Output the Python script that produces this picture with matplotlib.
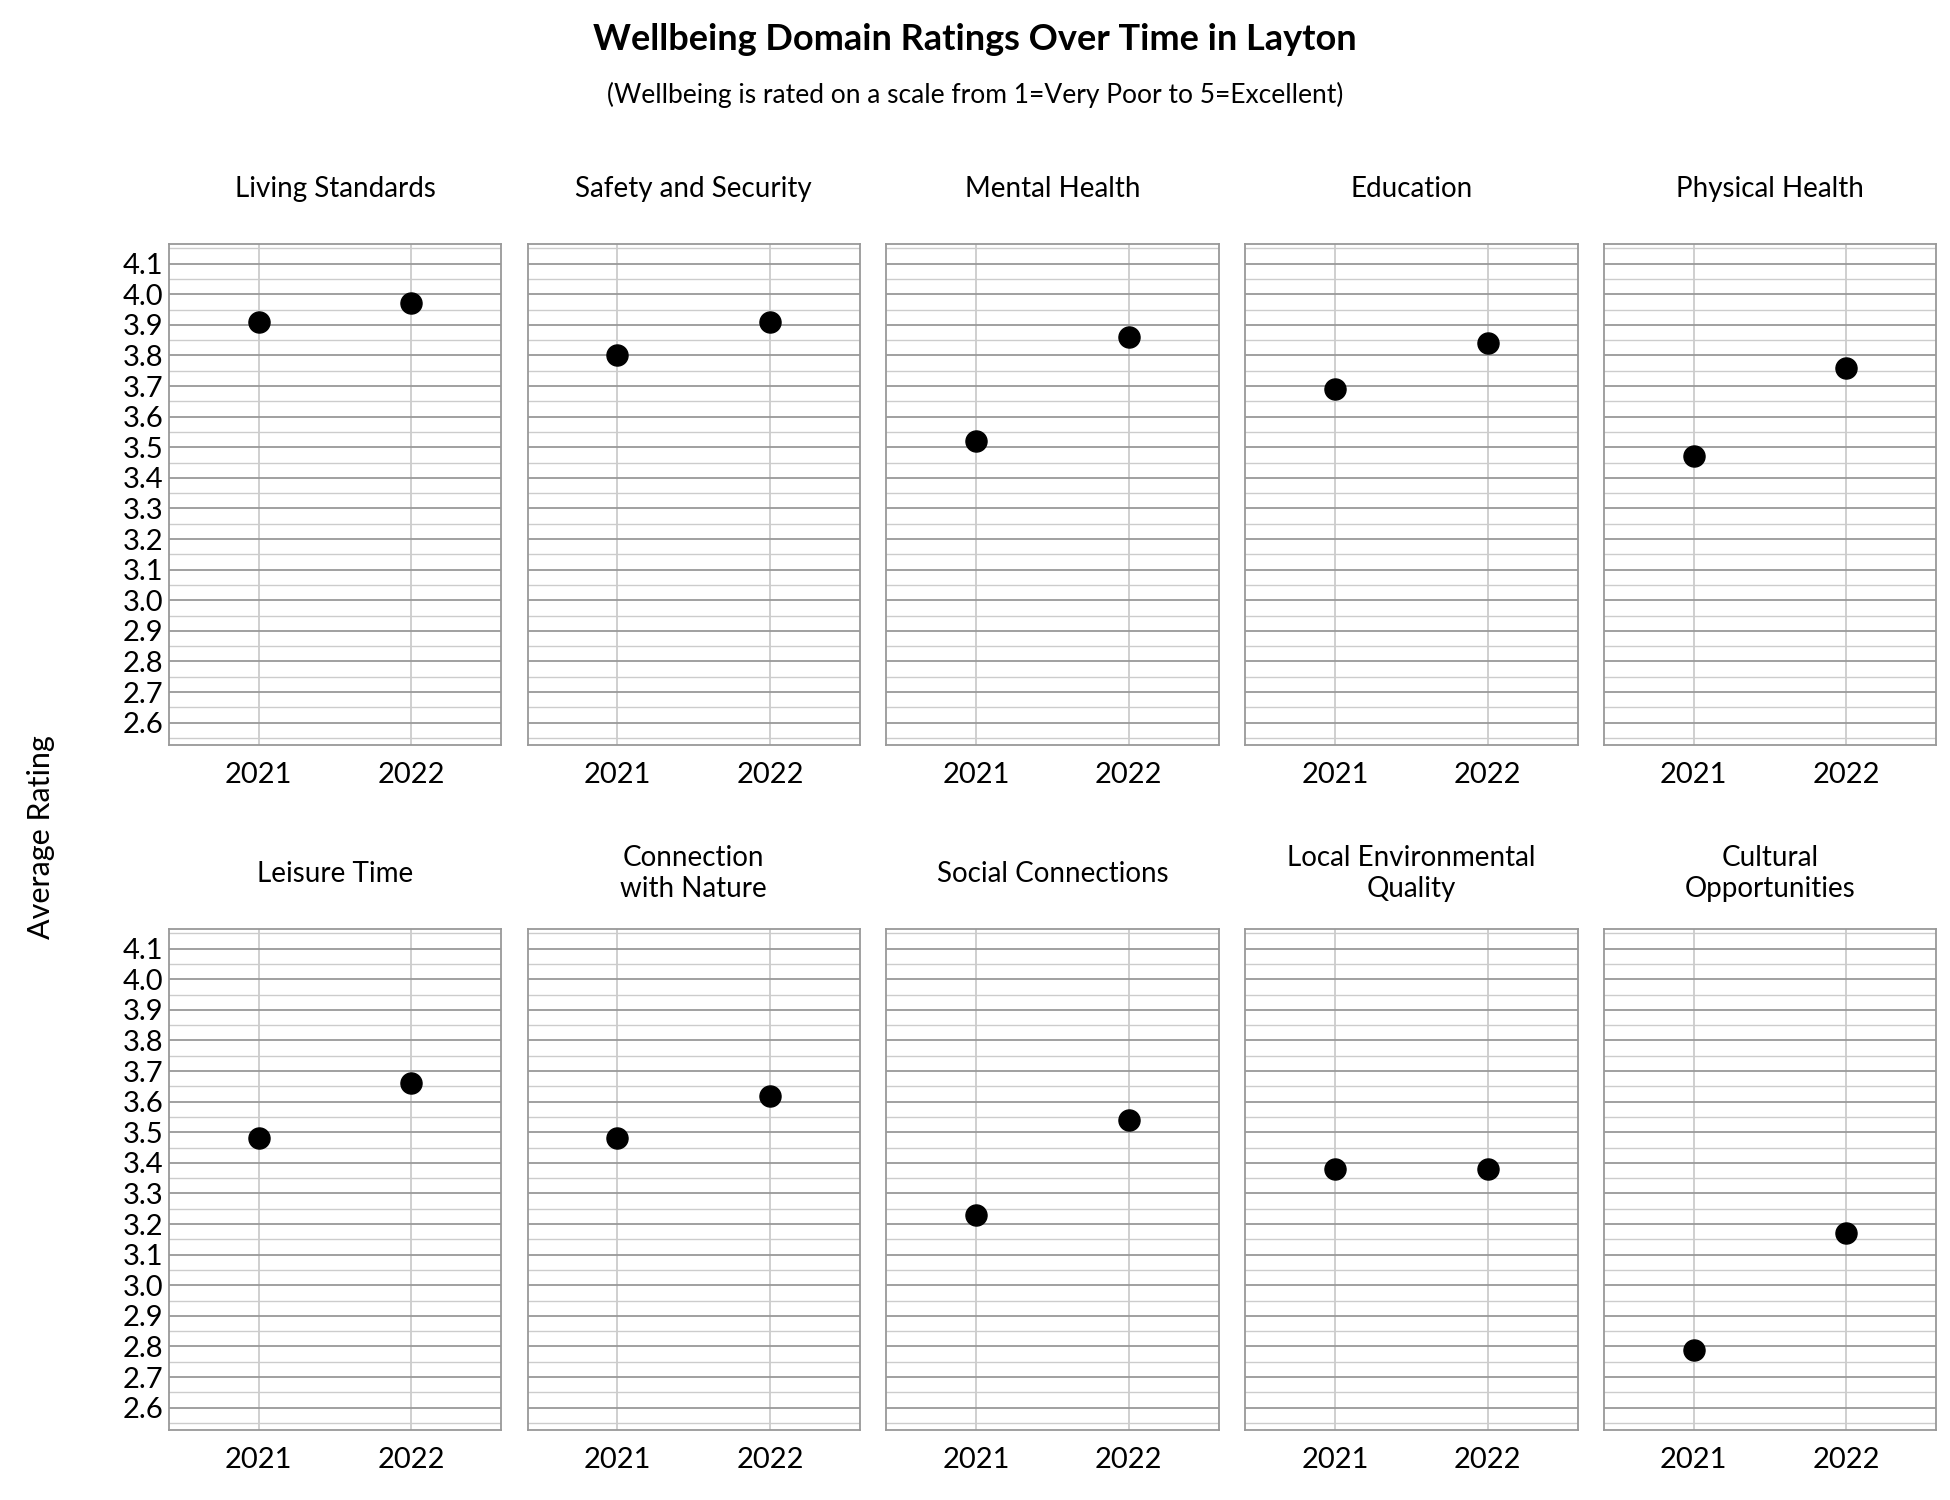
import matplotlib
matplotlib.use("Agg")
import matplotlib.pyplot as plt
import numpy as np

plt.rcParams['font.family'] = ['Lato', 'DejaVu Sans']

domains = ["Living Standards", "Safety and Security", "Mental Health", "Education", "Physical Health",
           "Leisure Time", "Connection\nwith Nature", "Social Connections", "Local Environmental\nQuality",
           "Cultural\nOpportunities"]
years = [2021, 2022]
r2021 = [3.91, 3.80, 3.52, 3.69, 3.47, 3.48, 3.48, 3.23, 3.38, 2.79]
r2022 = [3.97, 3.91, 3.86, 3.84, 3.76, 3.66, 3.62, 3.54, 3.38, 3.17]
yticks = np.round(np.arange(2.6, 4.11, 0.1), 1)

fig = plt.figure(figsize=(19.5, 15), dpi=100)
W, H = 1560, 1200
for i, d in enumerate(domains):
    row, col = divmod(i, 5)
    x0 = 135 + col * 287
    y0 = 195 if row == 0 else 743
    ax = fig.add_axes([x0 / W, 1 - (y0 + 401) / H, 266 / W, 401 / H])
    ax.set_xlim(2020.41, 2022.59)
    ax.set_ylim(2.527, 4.165)
    for y in np.arange(2.55, 4.16, 0.05):
        major = abs(round(y * 10) - y * 10) < 1e-6
        ax.axhline(y, color='#999999' if major else '#cccccc', lw=1.3 if major else 1.0, zorder=1)
    for x in years:
        ax.axvline(x, color='#cccccc', lw=1.3, zorder=0.5)
    ax.scatter(years, [r2021[i], r2022[i]], s=230, color='black', zorder=3)
    ax.set_xticks(years)
    ax.set_xticklabels([str(y) for y in years], fontsize=21)
    ax.tick_params(length=0, pad=12)
    if col == 0:
        ax.set_yticks(yticks)
        ax.set_yticklabels([f"{v:.1f}" for v in yticks], fontsize=21)
        ax.tick_params(axis='y', pad=4)
    else:
        ax.set_yticks([])
    for s in ax.spines.values():
        s.set_color('#999999'); s.set_linewidth(1.3)
    fig.text((x0 + 133) / W, 1 - (y0 - 44) / H, d, ha='center', va='center', fontsize=20,
             linespacing=1.25)

fig.text(0.5, 1 - 32 / H, "Wellbeing Domain Ratings Over Time in Layton", ha='center', va='center',
         fontsize=26, fontweight='bold')
fig.text(0.5, 1 - 76 / H, "(Wellbeing is rated on a scale from 1=Very Poor to 5=Excellent)", ha='center',
         va='center', fontsize=19)
fig.text(33 / W, 1 - 670 / H, "Average Rating", rotation=90, ha='center', va='center', fontsize=22)
fig.savefig("out.png", dpi=100, facecolor='white')
